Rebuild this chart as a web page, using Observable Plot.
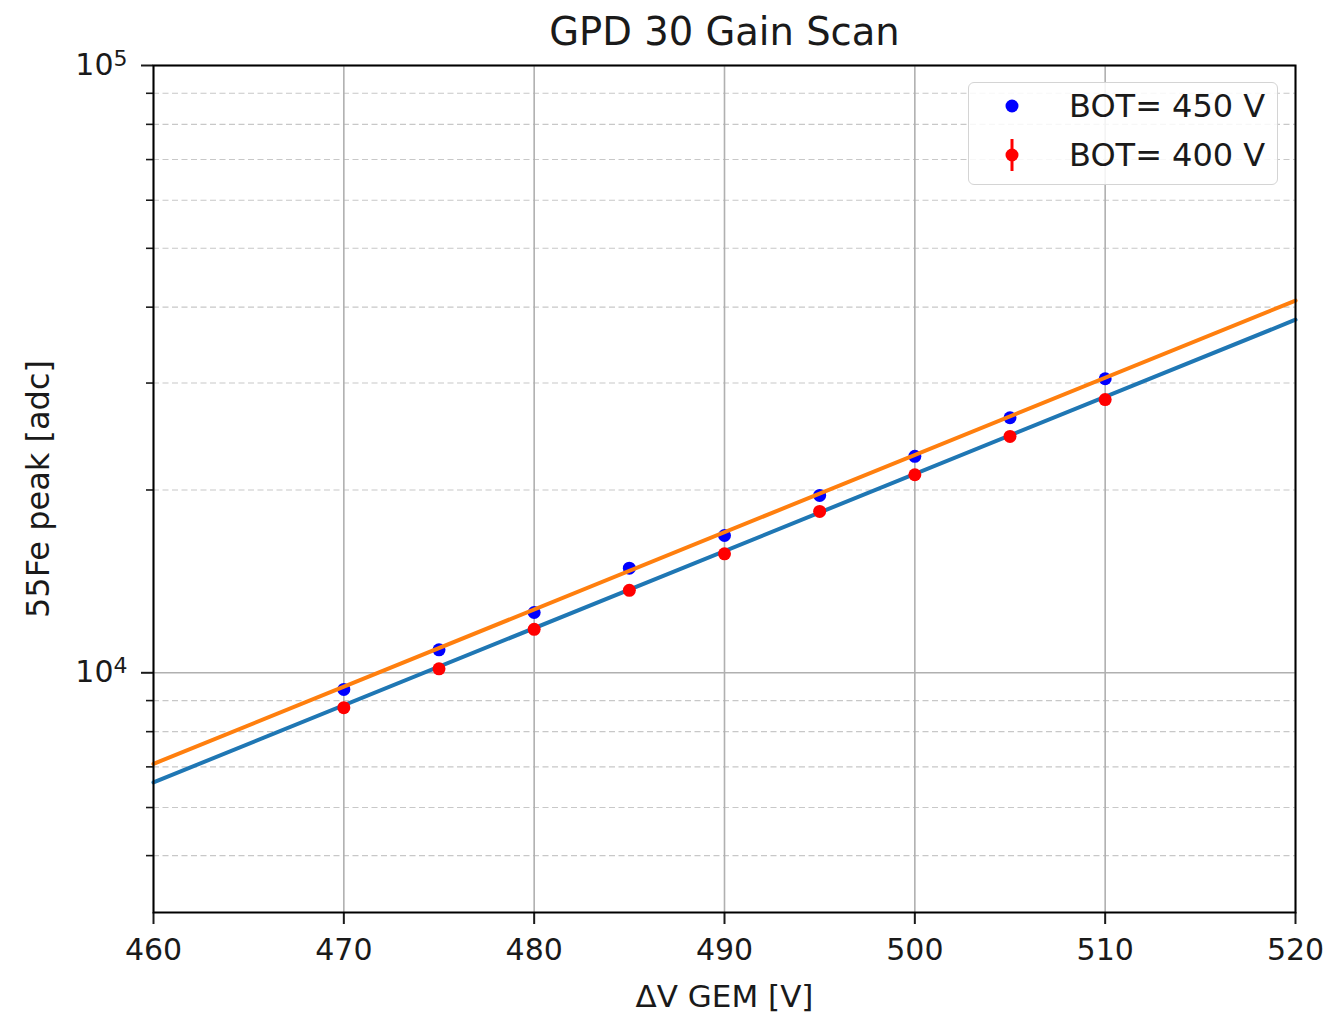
<!DOCTYPE html>
<html>
<head>
<meta charset="utf-8">
<script src="https://cdn.jsdelivr.net/npm/d3@7"></script>
<script src="https://cdn.jsdelivr.net/npm/@observablehq/plot@0.6"></script>
<style>
  html, body { margin: 0; padding: 0; background: white; }
  #wrap { position: relative; width: 1328px; height: 1015px; font-family: "DejaVu Sans", sans-serif; }
  #legend { position: absolute; left: 968px; top: 82px; width: 308px; height: 101px;
            border: 1.5px solid #d4d4d4; border-radius: 6px; background: rgba(255,255,255,0.85); }
  #legend .lbl { position: absolute; left: 100px; font-size: 32px; line-height: 32px; color: #1a1a1a; white-space: nowrap; }
  #legend svg { position: absolute; left: 0; top: 0; }
</style>
</head>
<body>
<div id="wrap"></div>
<script>
// ---- data ----
const gemVoltage = [470, 475, 480, 485, 490, 495, 500, 505, 510];
const peakBot450 = [9390, 10910, 12570, 14870, 16830, 19590, 22720, 26300, 30490];
const peakBot400 = [8760, 10150, 11790, 13670, 15700, 18440, 21190, 24500, 28180];
// exponential fit lines (end points)
const fitVoltage = [460, 520];
const fitBot450 = [7080, 41020];
const fitBot400 = [6600, 38140];
// axis ticks
const xTicks = [460, 470, 480, 490, 500, 510, 520];
const yMajorTicks = [10000, 100000];
const yMinorTicks = [5000, 6000, 7000, 8000, 9000, 20000, 30000, 40000, 50000, 60000, 70000, 80000, 90000];
const seriesLabels = ["BOT= 450 V", "BOT= 400 V"];

const pts450 = gemVoltage.map((v, i) => ({x: v, y: peakBot450[i]}));
const pts400 = gemVoltage.map((v, i) => ({x: v, y: peakBot400[i]}));
const line450 = fitVoltage.map((v, i) => ({x: v, y: fitBot450[i]}));
const line400 = fitVoltage.map((v, i) => ({x: v, y: fitBot400[i]}));

const fmtPow = d => "10^" + Math.round(Math.log10(d));

const chart = Plot.plot({
  width: 1328,
  height: 1015,
  marginLeft: 153,
  marginRight: 33,
  marginTop: 65,
  marginBottom: 103,
  style: {fontFamily: "DejaVu Sans, sans-serif", fontSize: "30px", background: "white", color: "#1a1a1a"},
  x: {domain: [460, 520]},
  y: {type: "log", domain: [4030, 100000]},
  marks: [
    Plot.gridY(yMinorTicks, {stroke: "#c8c8c8", strokeOpacity: 1, strokeWidth: 1.1, strokeDasharray: "6,3.5"}),
    Plot.gridY(yMajorTicks, {stroke: "#b0b0b0", strokeOpacity: 1, strokeWidth: 1.6}),
    Plot.gridX(xTicks, {stroke: "#b0b0b0", strokeOpacity: 1, strokeWidth: 1.6}),
    Plot.axisX(xTicks, {tickSize: 12, tickPadding: 14, strokeWidth: 2, label: null, fontSize: 30, tickFormat: d => String(d)}),
    Plot.axisY(yMajorTicks, {tickSize: 12, tickPadding: 14, strokeWidth: 2, label: null, fontSize: 30, tickFormat: fmtPow}),
    Plot.axisY(yMinorTicks, {tickSize: 7, strokeWidth: 1.6, label: null, tickFormat: () => ""}),
    Plot.dot(pts450, {x: "x", y: "y", r: 6.5, fill: "#0000ff", stroke: null}),
    Plot.line(line450, {x: "x", y: "y", stroke: "#ff7f0e", strokeWidth: 4}),
    Plot.line(line400, {x: "x", y: "y", stroke: "#1f77b4", strokeWidth: 4}),
    Plot.dot(pts400, {x: "x", y: "y", r: 6.5, fill: "#ff0000", stroke: null}),
    Plot.frame({stroke: "black", strokeWidth: 2}),
    Plot.text(["GPD 30 Gain Scan"], {frameAnchor: "top", lineAnchor: "middle", dy: -33, fontSize: 38.5, fill: "#1a1a1a"}),
    Plot.text(["ΔV GEM [V]"], {frameAnchor: "bottom", lineAnchor: "middle", dy: 85, fontSize: 31, fill: "#1a1a1a"}),
    Plot.text(["55Fe peak [adc]"], {frameAnchor: "left", textAnchor: "middle", lineAnchor: "middle", dx: -115, rotate: -90, fontSize: 32, fill: "#1a1a1a"})
  ]
});

// render superscripts for power-of-ten tick labels
d3.select(chart).selectAll("text").each(function () {
  const t = this.textContent;
  const m = /^10\^(\d+)$/.exec(t);
  if (!m) return;
  const sel = d3.select(this);
  sel.text("10");
  sel.append("tspan").attr("dy", "-0.42em").attr("font-size", "22px").text(m[1]);
});

const wrap = document.getElementById("wrap");
wrap.appendChild(chart);

// legend overlay
const legend = document.createElement("div");
legend.id = "legend";
legend.innerHTML = `
  <svg width="100" height="101">
    <circle cx="43" cy="23" r="6.5" fill="#0000ff"></circle>
    <line x1="43" x2="43" y1="56" y2="88" stroke="#ff0000" stroke-width="3"></line>
    <circle cx="43" cy="72" r="6.5" fill="#ff0000"></circle>
  </svg>
  <div class="lbl" style="top:7px">${seriesLabels[0]}</div>
  <div class="lbl" style="top:56px">${seriesLabels[1]}</div>`;
wrap.appendChild(legend);
</script>
</body>
</html>
